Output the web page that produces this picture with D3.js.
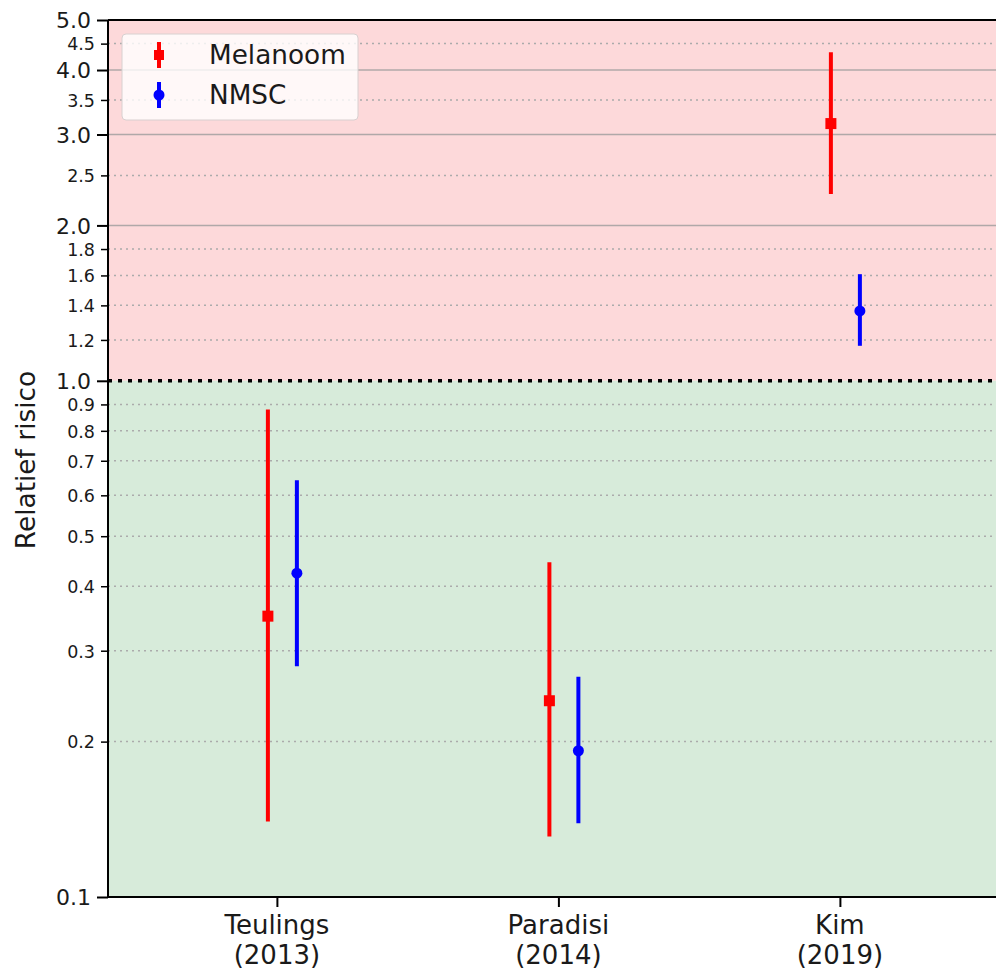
<!DOCTYPE html>
<html>
<head>
<meta charset="utf-8">
<script src="https://d3js.org/d3.v7.min.js"></script>
<style>
  body { margin: 0; background: #fff; }
  text { font-family: "DejaVu Sans", sans-serif; fill: #1a1a1a; }
</style>
</head>
<body>
<script>
// the data
var studies = ["Teulings", "Paradisi", "Kim"];
var years = ["(2013)", "(2014)", "(2019)"];

var melValue = [0.35, 0.24, 3.15];
var melLow = [0.14, 0.131, 2.30];
var melHigh = [0.88, 0.445, 4.33];

var nmscValue = [0.424, 0.192, 1.366];
var nmscLow = [0.28, 0.139, 1.169];
var nmscHigh = [0.642, 0.267, 1.609];

var majorTicks = [0.1, 1, 2, 3, 4, 5];
var minorTicks = [0.2, 0.3, 0.4, 0.5, 0.6, 0.7, 0.8, 0.9, 1.2, 1.4, 1.6, 1.8, 2.5, 3.5, 4.5];
var solidGrid = [2, 3, 4];

var width = 996,
    height = 971,
    plotLeft = 108,
    plotTop = 20,
    plotBottom = 897;

var svg = d3.select("body").append("svg")
    .attr("width", width)
    .attr("height", height);

// scales: categories on 0..2, log risk
var x = d3.scaleLinear().domain([-0.6, 2.6]).range([plotLeft, plotLeft + 3.2 * 281.5]);
var y = d3.scaleLog().domain([0.1, 5]).range([plotBottom, plotTop]);

var plotRight = x(2.6);

// red (harm) and green (protective) zones
svg.append("rect")
    .attr("x", plotLeft).attr("y", y(5))
    .attr("width", plotRight - plotLeft).attr("height", y(1) - y(5))
    .attr("fill", "#fdd9da");
svg.append("rect")
    .attr("x", plotLeft).attr("y", y(1))
    .attr("width", plotRight - plotLeft).attr("height", y(0.1) - y(1))
    .attr("fill", "#d7ebda");

// grid lines
svg.append("g").selectAll("line")
    .data(minorTicks)
    .enter().append("line")
    .attr("x1", plotLeft).attr("x2", plotRight)
    .attr("y1", function(d) { return y(d); })
    .attr("y2", function(d) { return y(d); })
    .attr("stroke", "#ababab")
    .attr("stroke-width", 1.5)
    .attr("stroke-dasharray", "2,4");

svg.append("g").selectAll("line")
    .data(solidGrid)
    .enter().append("line")
    .attr("x1", plotLeft).attr("x2", plotRight)
    .attr("y1", function(d) { return y(d); })
    .attr("y2", function(d) { return y(d); })
    .attr("stroke", "#b0a8a8")
    .attr("stroke-width", 1.5);

// the RR = 1 line
svg.append("line")
    .attr("x1", plotLeft).attr("x2", plotRight)
    .attr("y1", y(1)).attr("y2", y(1))
    .attr("stroke", "#000")
    .attr("stroke-width", 3.5)
    .attr("stroke-dasharray", "4,6");

// error bars
var melOffset = -0.032,
    nmscOffset = 0.071;

svg.append("g").selectAll("line")
    .data(studies)
    .enter().append("line")
    .attr("x1", function(d, i) { return x(i + melOffset); })
    .attr("x2", function(d, i) { return x(i + melOffset); })
    .attr("y1", function(d, i) { return y(melLow[i]); })
    .attr("y2", function(d, i) { return y(melHigh[i]); })
    .attr("stroke", "#ff0000")
    .attr("stroke-width", 4);

svg.append("g").selectAll("rect")
    .data(studies)
    .enter().append("rect")
    .attr("x", function(d, i) { return x(i + melOffset) - 5.5; })
    .attr("y", function(d, i) { return y(melValue[i]) - 5.5; })
    .attr("width", 11).attr("height", 11)
    .attr("fill", "#ff0000");

svg.append("g").selectAll("line")
    .data(studies)
    .enter().append("line")
    .attr("x1", function(d, i) { return x(i + nmscOffset); })
    .attr("x2", function(d, i) { return x(i + nmscOffset); })
    .attr("y1", function(d, i) { return y(nmscLow[i]); })
    .attr("y2", function(d, i) { return y(nmscHigh[i]); })
    .attr("stroke", "#0000ff")
    .attr("stroke-width", 4);

svg.append("g").selectAll("circle")
    .data(studies)
    .enter().append("circle")
    .attr("cx", function(d, i) { return x(i + nmscOffset); })
    .attr("cy", function(d, i) { return y(nmscValue[i]); })
    .attr("r", 5.5)
    .attr("fill", "#0000ff");

// y axis: major + minor ticks, labels are real text
var yMajor = d3.axisLeft(y)
    .tickValues(majorTicks)
    .tickFormat(d3.format(".1f"))
    .tickSize(11)
    .tickPadding(6);

var yMinor = d3.axisLeft(y)
    .tickValues(minorTicks)
    .tickFormat(d3.format(".1f"))
    .tickSize(7)
    .tickPadding(6);

var gMajor = svg.append("g")
    .attr("transform", "translate(" + plotLeft + ",0)")
    .call(yMajor);
gMajor.select(".domain").remove();
gMajor.selectAll(".tick line").attr("stroke", "#000").attr("stroke-width", 2);
gMajor.selectAll(".tick text")
    .style("font-family", "DejaVu Sans")
    .style("font-size", "22px")
    .attr("fill", "#1a1a1a")
    .attr("dy", "0.36em");

var gMinor = svg.append("g")
    .attr("transform", "translate(" + plotLeft + ",0)")
    .call(yMinor);
gMinor.select(".domain").remove();
gMinor.selectAll(".tick line").attr("stroke", "#000").attr("stroke-width", 1.5);
gMinor.selectAll(".tick text")
    .style("font-family", "DejaVu Sans")
    .style("font-size", "17.5px")
    .attr("fill", "#1a1a1a")
    .attr("dy", "0.36em");

// x axis ticks
var xAxis = d3.axisBottom(x)
    .tickValues([0, 1, 2])
    .tickFormat("")
    .tickSize(10);
var gx = svg.append("g")
    .attr("transform", "translate(0," + plotBottom + ")")
    .call(xAxis);
gx.select(".domain").remove();
gx.selectAll(".tick line").attr("stroke", "#000").attr("stroke-width", 2);

// two line category labels
var xLabels = svg.append("g").selectAll("text")
    .data(studies)
    .enter().append("text")
    .attr("text-anchor", "middle")
    .style("font-size", "26px");
xLabels.append("tspan")
    .attr("x", function(d, i) { return x(i); })
    .attr("y", 934)
    .text(function(d) { return d; });
xLabels.append("tspan")
    .attr("x", function(d, i) { return x(i); })
    .attr("y", 964)
    .text(function(d, i) { return years[i]; });

// spines
svg.append("line")
    .attr("x1", plotLeft).attr("x2", plotLeft)
    .attr("y1", plotTop).attr("y2", plotBottom)
    .attr("stroke", "#000").attr("stroke-width", 2);
svg.append("line")
    .attr("x1", plotLeft).attr("x2", plotRight)
    .attr("y1", plotTop).attr("y2", plotTop)
    .attr("stroke", "#000").attr("stroke-width", 2);
svg.append("line")
    .attr("x1", plotLeft).attr("x2", plotRight)
    .attr("y1", plotBottom).attr("y2", plotBottom)
    .attr("stroke", "#000").attr("stroke-width", 2);

// y label
svg.append("text")
    .attr("transform", "translate(35," + 460 + ") rotate(-90)")
    .attr("text-anchor", "middle")
    .style("font-size", "26.4px")
    .text("Relatief risico");

// legend
var legend = svg.append("g");
legend.append("rect")
    .attr("x", 122).attr("y", 34)
    .attr("width", 236).attr("height", 86)
    .attr("rx", 4)
    .attr("fill", "#fff").attr("fill-opacity", 0.8)
    .attr("stroke", "#d8d0d0").attr("stroke-width", 1);

var legendItems = [
    {name: "Melanoom", color: "#ff0000", shape: "square"},
    {name: "NMSC", color: "#0000ff", shape: "circle"}
];

var item = legend.selectAll(".item")
    .data(legendItems)
    .enter().append("g")
    .attr("transform", function(d, i) { return "translate(159," + (55 + i * 40) + ")"; });

item.append("line")
    .attr("y1", -13).attr("y2", 13)
    .attr("stroke", function(d) { return d.color; })
    .attr("stroke-width", 4);
item.filter(function(d) { return d.shape == "square"; })
    .append("rect")
    .attr("x", -5).attr("y", -5).attr("width", 10).attr("height", 10)
    .attr("fill", function(d) { return d.color; });
item.filter(function(d) { return d.shape == "circle"; })
    .append("circle")
    .attr("r", 5.5)
    .attr("fill", function(d) { return d.color; });
item.append("text")
    .attr("x", 50)
    .attr("dy", "0.36em")
    .style("font-size", "26.3px")
    .text(function(d) { return d.name; });
</script>
</body>
</html>
